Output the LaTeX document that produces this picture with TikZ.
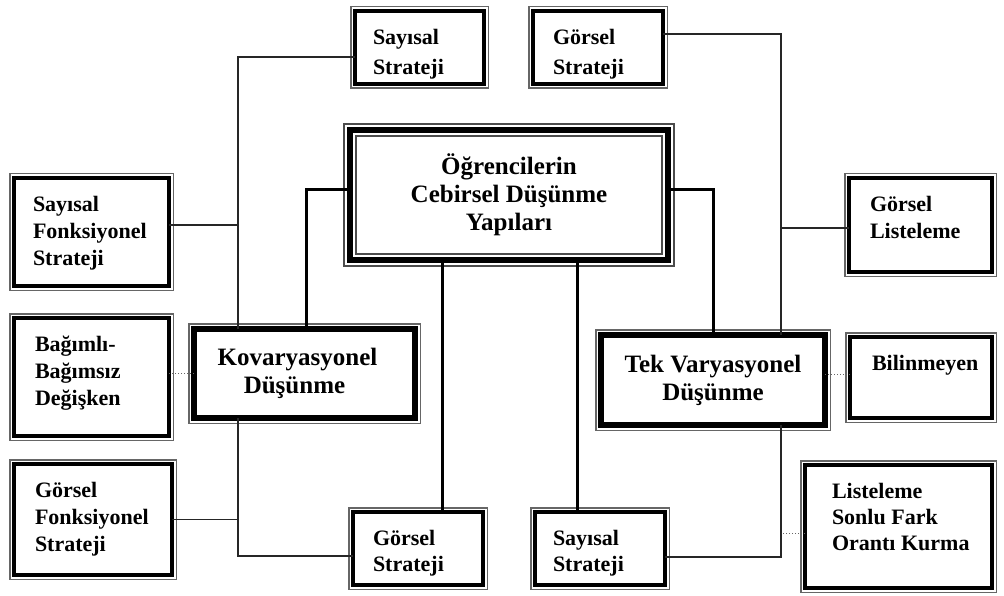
\documentclass[tikz,border=0pt]{standalone}
\usepackage{fontspec}
\setmainfont{Liberation Serif}
\newcommand{\bx}[5]{\parbox[c][#2pt][t]{#1pt}{\fontsize{22}{#4}\selectfont\bfseries\raggedright\leftskip=#3pt\vspace*{18pt}#5\par}}
\tikzset{
  sbox/.style={inner sep=0pt, outer sep=0pt, fill=white, draw=black, line width=4pt,
    preaction={draw=black!60, line width=10pt},
    preaction={draw=white, line width=7pt}},
  kbox/.style={inner sep=0pt, outer sep=0pt, fill=white, draw=black, line width=6pt,
    preaction={draw=black!60, line width=12pt},
    preaction={draw=white, line width=9pt},
    align=center, font=\fontsize{25}{28}\selectfont\bfseries},
  cbox/.style={inner sep=0pt, outer sep=0pt, fill=white, draw=black!70, line width=14pt,
    postaction={draw=white, line width=10pt},
    postaction={draw=black, line width=6pt},
    align=center, font=\fontsize{25}{28}\selectfont\bfseries},
  conn/.style={line width=1.4pt, black!85},
  tconn/.style={line width=3pt, black},
  dconn/.style={dotted, line width=1pt, black!60}
}
\begin{document}
\begin{tikzpicture}[x=1pt, y=-1pt]
\useasboundingbox[fill=white] (0,0) rectangle (1004,596);
% nodes
\node[sbox] (topS) at (419.5,47.5) {\bx{129}{73}{18}{30}{Sayısal\\Strateji}};
\node[sbox] (topG) at (598,47.5) {\bx{130}{73}{20}{30}{Görsel\\Strateji}};
\node[cbox, minimum width=318pt, minimum height=130pt] (center) at (509,195) {Öğrencilerin\\Cebirsel Düşünme\\Yapıları};
\node[sbox] (sfs) at (91.5,232) {\bx{155}{108}{19}{27}{Sayısal\\Fonksiyonel\\Strateji}};
\node[sbox] (gl) at (920.5,225) {\bx{143}{94}{21}{27}{Görsel\\Listeleme}};
\node[sbox] (bag) at (91.5,377) {\bx{155}{118}{21}{27}{Bağımlı-\\Bağımsız\\Değişken}};
\node[kbox, minimum width=221pt, minimum height=89pt] (kov) at (304.5,373.5) {Kovaryasyonel\kern14pt\\Düşünme\kern20pt};
\node[kbox, minimum width=224pt, minimum height=90pt] (tek) at (713,380) {Tek Varyasyonel\\Düşünme};
\node[sbox] (bil) at (921,377.5) {\bx{142}{81}{22}{27}{Bilinmeyen}};
\node[sbox] (gfs) at (93,519.5) {\bx{158}{111}{21}{27}{Görsel\\Fonksiyonel\\Strateji}};
\node[sbox] (botG) at (418,548.5) {\bx{130}{73}{20}{26}{Görsel\\Strateji}};
\node[sbox] (botS) at (600,548.5) {\bx{130}{73}{18}{26}{Sayısal\\Strateji}};
\node[sbox] (lis) at (898.5,526.5) {\bx{187}{123}{27}{26}{Listeleme\\Sonlu Fark\\Orantı Kurma}};
% helper coordinates
\coordinate (kovL) at ([xshift=44pt]kov.north west);
\coordinate (kovLb) at ([xshift=44pt]kov.south west);
\coordinate (tekR) at ([xshift=68pt]tek.north);
\coordinate (tekRb) at ([xshift=68pt]tek.south);
\coordinate (p1) at ([yshift=7pt]sfs.east);
\coordinate (p2) at ([yshift=-3pt]gl.west);
\coordinate (p3) at ([yshift=-6.5pt]lis.west);
\coordinate (p4) at ([yshift=6pt]tek.east);
\coordinate (p5) at ([xshift=-67pt]center.south);
\coordinate (p6) at ([xshift=68pt]center.south);
% thin connectors
\draw[conn] ([yshift=-9.5pt]topS.west) -| (kovL);
\draw[conn] (p1) -- (p1 -| kovL);
\draw[conn] (kovLb) |- ([yshift=-7.5pt]botG.west);
\draw[conn] (gfs.east) -- (gfs.east -| kovL);
\draw[conn] ([yshift=13.5pt]topG.east) -| (tekR);
\draw[conn] (p2) -- (p2 -| tekR);
\draw[conn] (tekRb) |- ([yshift=-8.5pt]botS.east);
% dotted connectors
\draw[dconn] (p3) -- (p3 -| tekR);
\draw[dconn] (kov.west) -- (kov.west -| bag.east);
\draw[dconn] (p4) -- (p4 -| bil.west);
% thick connectors
\draw[tconn] ([yshift=5pt]center.west) -| ([xshift=1.5pt]kov.north);
\draw[tconn] (p5) -- (p5 |- botG.north);
\draw[tconn] (p6) -- (p6 |- botS.north);
\draw[tconn] ([yshift=5pt]center.east) -| (tek.north);
\end{tikzpicture}
\end{document}
